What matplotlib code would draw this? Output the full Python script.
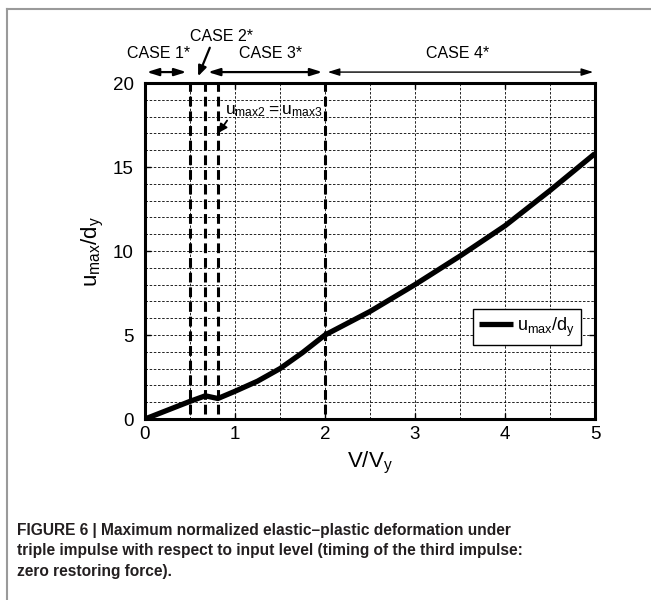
import numpy as np
import matplotlib.pyplot as plt
from matplotlib.ticker import MultipleLocator
from matplotlib.lines import Line2D

plt.rcParams["font.family"] = ["Liberation Sans", "DejaVu Sans"]
plt.rcParams["mathtext.fontset"] = "custom"
plt.rcParams["mathtext.rm"] = "Liberation Sans"

# ---------- data ----------
v_ratio = [0, 0.5, 0.67, 0.81, 1.0, 1.25, 1.5, 1.75, 2.0, 2.5, 3.0, 3.5, 4.0, 4.5, 5.0]
u_norm = [0, 1.05, 1.38, 1.22, 1.65, 2.25, 3.0, 3.95, 5.0, 6.4, 8.0, 9.7, 11.5, 13.6, 15.8]

case_bounds = [0.5, 0.67, 0.81, 2.0]      # thick dashed separators
case_labels = ["CASE 1*", "CASE 2*", "CASE 3*", "CASE 4*"]
case_spans = [(0.02, 0.46), None, (0.70, 1.97), (2.03, 4.98)]
case_text_x = [0.15, 0.85, 1.40, 3.47]

caption = ("FIGURE 6 | Maximum normalized elastic\u2013plastic deformation under\n"
           "triple impulse with respect to input level (timing of the third impulse:\n"
           "zero restoring force).")

# ---------- figure ----------
W, H = 651, 600
fig = plt.figure(figsize=(W / 100, H / 100), dpi=100)
ax = fig.add_axes([145 / W, 1 - 419 / H, 450 / W, 336 / H])

ax.set_xlim(0, 5)
ax.set_ylim(0, 20)
ax.xaxis.set_major_locator(MultipleLocator(1))
ax.xaxis.set_minor_locator(MultipleLocator(0.5))
ax.yaxis.set_major_locator(MultipleLocator(5))
ax.yaxis.set_minor_locator(MultipleLocator(1))
ax.grid(which="both", color="black", linestyle=(0, (3, 2)), linewidth=0.6)
ax.tick_params(which="major", direction="in", length=4, width=1,
               top=True, right=True, labelsize=13.5)
ax.tick_params(axis="y", pad=8)
ax.tick_params(axis="x", pad=5)
ax.tick_params(which="minor", length=0)
for s in ax.spines.values():
    s.set_linewidth(2.2)

for xb in case_bounds:
    ax.plot([xb, xb], [0.3, 20], color="black", lw=2.2,
            linestyle=(0, (3.2, 1.6)), zorder=3)

ax.plot(v_ratio, u_norm, color="black", lw=3.8, solid_capstyle="butt", zorder=4,
        label=r"$\mathregular{u_{max}/d_y}$")

ax.set_xlabel(r"$\mathregular{V/V_y}$", fontsize=16, labelpad=5)
ax.set_ylabel(r"$\mathregular{u_{max}/d_y}$", fontsize=16, labelpad=5)

# annotation inside axes
ax.text(0.89, 18.3, r"$\mathregular{u_{max2}{=}u_{max3}}$", fontsize=12.5,
        ha="left", va="center", zorder=5)
ax.annotate("", xy=(0.80, 16.9), xytext=(0.93, 17.9),
            arrowprops=dict(arrowstyle="-|>,head_length=0.5,head_width=0.25",
                            color="black", lw=1.3), zorder=5)

# case arrows above the plot
for lab, span, tx in zip(case_labels, case_spans, case_text_x):
    if span is not None:
        lw = 1.0 if lab == "CASE 4*" else 1.6
        ax.annotate("", xy=(span[1], 20.65), xytext=(span[0], 20.65),
                    xycoords="data", annotation_clip=False,
                    arrowprops=dict(arrowstyle="<|-|>,head_length=0.7,head_width=0.22",
                                    color="black", lw=lw, shrinkA=0, shrinkB=0))
        ax.text(tx, 21.75, lab, fontsize=11.5, ha="center", va="center", clip_on=False)
    else:
        ax.text(tx, 22.75, lab, fontsize=11.5, ha="center", va="center", clip_on=False)
        ax.annotate("", xy=(0.59, 20.4), xytext=(0.72, 22.1), annotation_clip=False,
                    arrowprops=dict(arrowstyle="-|>,head_length=0.6,head_width=0.25",
                                    color="black", lw=1.6, shrinkA=0, shrinkB=0))

leg = ax.legend(loc="upper right", bbox_to_anchor=(0.969, 0.327), borderaxespad=0,
                fontsize=13, handlelength=1.9, handletextpad=0.2, borderpad=0.35,
                frameon=True, fancybox=False, edgecolor="black", framealpha=1)
leg.get_frame().set_linewidth(1.0)

# panel border (gray, top and left)
fig.add_artist(Line2D([7 / W, 1], [1 - 9 / H, 1 - 9 / H], color="#9a9a9a", lw=1.5))
fig.add_artist(Line2D([7 / W, 7 / W], [0, 1 - 9 / H], color="#9a9a9a", lw=1.5))

fig.text(17 / W, 1 - 523 / H, caption, fontsize=11.2, fontweight="bold",
         color="#231f20", ha="left", va="top", linespacing=1.45)

fig.savefig("out.png", dpi=100)
